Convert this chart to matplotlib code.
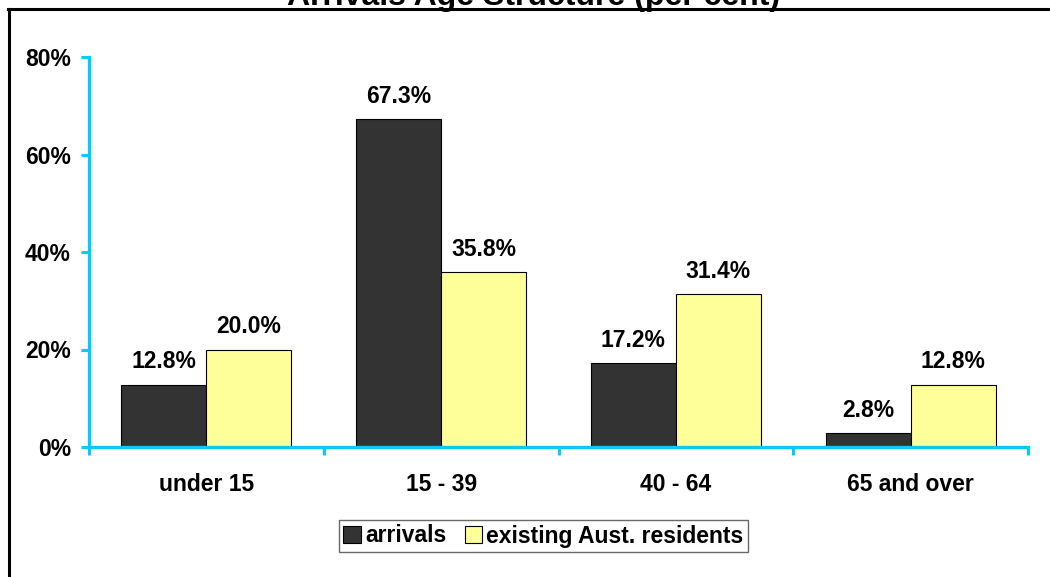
import matplotlib.pyplot as plt
from matplotlib.lines import Line2D
import numpy as np

plt.rcParams['font.family'] = ['Liberation Sans', 'DejaVu Sans']
plt.rcParams['font.weight'] = 'bold'

categories = ["under 15", "15 - 39", "40 - 64", "65 and over"]
arrivals = [12.8, 67.3, 17.2, 2.8]
residents = [20.0, 35.8, 31.4, 12.8]
series_names = ["arrivals", "existing Aust. residents"]
title = "Arrivals Age Structure (per cent)"

W, H = 1050, 577
fs = 16.5
fig = plt.figure(figsize=(W / 100, H / 100), dpi=100)
ax = fig.add_axes([89 / W, 1 - 447 / H, (1028 - 89) / W, (447 - 57) / H])

x = np.arange(len(categories))
w = 0.362
cyan = "#00CCFF"

b1 = ax.bar(x - w / 2, arrivals, w, color="#333333", edgecolor="black", linewidth=0.8,
            label=series_names[0])
b2 = ax.bar(x + w / 2, residents, w, color="#FFFF99", edgecolor="black", linewidth=0.8,
            label=series_names[1])

for bars, vals in [(b1, arrivals), (b2, residents)]:
    for r, v in zip(bars, vals):
        ax.annotate(f"{v:.1f}%", (r.get_x() + r.get_width() / 2, v),
                    xytext=(0, 8), textcoords="offset points",
                    ha="center", va="bottom", fontsize=fs, fontweight="bold")

ax.set_xlim(-0.5, len(categories) - 0.5)
ax.set_ylim(0, 80)
ax.set_yticks([0, 20, 40, 60, 80])
ax.set_yticklabels([f"{t}%" for t in [0, 20, 40, 60, 80]])

# category labels at centres, tick marks at the boundaries
ax.set_xticks(x)
ax.set_xticklabels(categories)
ax.set_xticks(np.arange(len(categories) + 1) - 0.5, minor=True)
ax.tick_params(axis="x", which="major", length=0, pad=19, labelsize=fs)
ax.tick_params(axis="x", which="minor", length=6, width=2.2, color=cyan, direction="out")
ax.tick_params(axis="y", length=6, width=2.2, color=cyan, direction="out", pad=7,
               labelsize=fs)

for s in ["top", "right"]:
    ax.spines[s].set_visible(False)
for s in ["left", "bottom"]:
    ax.spines[s].set_color(cyan)
    ax.spines[s].set_linewidth(2.4)

leg = ax.legend(loc="center", bbox_to_anchor=(543.5 / W, 1 - 536 / H),
                bbox_transform=fig.transFigure, ncol=2, fontsize=fs,
                frameon=True, fancybox=False, edgecolor="#444444",
                handlelength=0.75, handleheight=0.75, handletextpad=0.2,
                columnspacing=0.8, borderpad=0.2, borderaxespad=0)
leg.get_frame().set_linewidth(1.0)

# chart frame (clipped at the top, right and bottom like the original)
fig.add_artist(Line2D([8 / W, 1], [1 - 9 / H, 1 - 9 / H], color="black", linewidth=2.2))
fig.add_artist(Line2D([8.5 / W, 8.5 / W], [0, 1 - 9 / H], color="black", linewidth=2.2))

fig.text(534 / W, 1 - 5 / H, title, ha="center", va="baseline", fontsize=23,
         fontweight="bold")

fig.savefig("out.png", dpi=100)
